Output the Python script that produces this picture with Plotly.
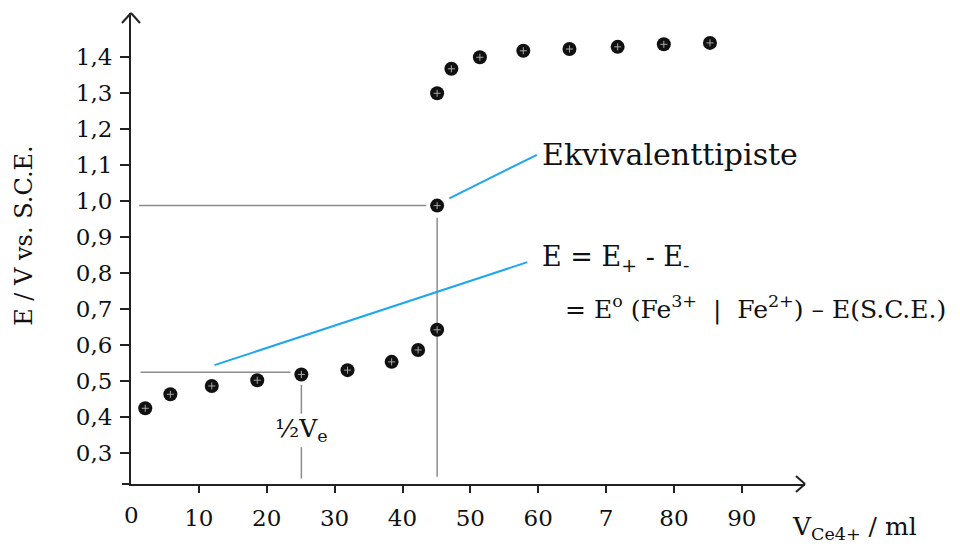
import plotly.graph_objects as go

# ---- data ----
volume_ml = [2.1, 5.8, 11.9, 18.6, 25.1, 31.9, 38.4, 42.3, 45.1, 45.1, 45.1,
             47.2, 51.4, 57.8, 64.6, 71.7, 78.5, 85.3]
potential_V = [0.425, 0.464, 0.487, 0.503, 0.519, 0.531, 0.554, 0.587, 0.643,
               0.988, 1.30, 1.368, 1.40, 1.418, 1.423, 1.429, 1.436, 1.44]

x_tick_vals = [10, 20, 30, 40, 50, 60, 70, 80, 90]
x_tick_text = ["10", "20", "30", "40", "50", "60", "7", "80", "90"]
y_tick_vals = [0.3, 0.4, 0.5, 0.6, 0.7, 0.8, 0.9, 1.0, 1.1, 1.2, 1.3, 1.4]
y_tick_text = ["0,3", "0,4", "0,5", "0,6", "0,7", "0,8", "0,9", "1,0", "1,1", "1,2", "1,3", "1,4"]

equiv_idx = 9      # equivalence point
half_idx = 4       # half-equivalence point
half_E = 0.525

X_RANGE = [0, 99.3]
Y_RANGE = [0.2147, 1.523]

W, H = 960, 549
M = dict(l=131, r=155, t=13, b=65)
PW = W - M["l"] - M["r"]
PH = H - M["t"] - M["b"]

FONT = "DejaVu Serif"
TXT = "#111111"
GRAY = "#8c8c8c"
BLUE = "#1ea6ee"

fig = go.Figure()

# reference (guide) lines
xe, ye = volume_ml[equiv_idx], potential_V[equiv_idx]
xh = volume_ml[half_idx]
guides = [
    ([1.2, xe - 1.6], [ye, ye]),                  # horizontal at equivalence
    ([xe, xe], [ye - 0.034, 0.235]),              # vertical at equivalence
    ([1.4, xh - 1.6], [half_E, half_E]),          # horizontal at half Ve
    ([xh, xh], [0.490, 0.410]),                   # vertical at half Ve (upper)
    ([xh, xh], [0.317, 0.230]),                   # vertical at half Ve (lower)
]
for gx, gy in guides:
    fig.add_trace(go.Scatter(x=gx, y=gy, mode="lines",
                             line=dict(color=GRAY, width=1.5),
                             hoverinfo="skip", showlegend=False))

# blue leader lines
leaders = [
    ([46.9, 59.8], [1.008, 1.129]),
    ([12.3, 58.4], [0.545, 0.831]),
]
for lx, ly in leaders:
    fig.add_trace(go.Scatter(x=lx, y=ly, mode="lines",
                             line=dict(color=BLUE, width=2),
                             hoverinfo="skip", showlegend=False))

# data points
fig.add_trace(go.Scatter(x=volume_ml, y=potential_V, mode="markers",
                         marker=dict(symbol="circle", size=14, color="#111111",
                                     line=dict(width=0)),
                         showlegend=False, cliponaxis=False))
fig.add_trace(go.Scatter(x=volume_ml, y=potential_V, mode="markers",
                         marker=dict(symbol="cross-thin", size=5,
                                     line=dict(color="#a8a8a8", width=1)),
                         showlegend=False, hoverinfo="skip", cliponaxis=False))

annotations = [
    dict(x=60.3, y=1.129, text="Ekvivalenttipiste", xanchor="left", yanchor="middle",
         font=dict(size=30)),
    dict(x=60.3, y=0.840, text="E = E<sub>+</sub> - E<sub>-</sub>", xanchor="left",
         yanchor="middle", font=dict(size=27)),
    dict(x=63.6, y=0.704,
         text="= E<sup>o</sup> (Fe<sup>3+</sup>  |  Fe<sup>2+</sup>) – E(S.C.E.)",
         xanchor="left", yanchor="middle", font=dict(size=25)),
    dict(x=xh, y=0.365, text="½V<sub>e</sub>", xanchor="center", yanchor="middle",
         font=dict(size=25)),
    dict(x=0, y=Y_RANGE[0], text="0", xanchor="center", yanchor="top", yshift=-16,
         font=dict(size=23)),
    dict(xref="paper", yref="paper", x=(790 - M["l"]) / PW, y=-0.094,
         text="V<sub>Ce4+</sub> / ml", xanchor="left", yanchor="middle",
         font=dict(size=25)),
    dict(xref="paper", yref="paper", x=(24 - M["l"]) / PW, y=0.527, text="E / V vs. S.C.E.",
         textangle=-90, xanchor="center", yanchor="middle", font=dict(size=24)),
]
for a in annotations:
    a.setdefault("xref", "x")
    a.setdefault("yref", "y")
    a["showarrow"] = False
    a["font"].update(family=FONT, color=TXT)
fig.update_layout(annotations=annotations)

# axis arrow heads and corner stub, sized in pixels, expressed in paper units
def pline(ax, ay, dx0, dy0, dx1, dy1):
    return dict(type="line", xref="paper", yref="paper",
                x0=ax + dx0 / PW, y0=ay + dy0 / PH, x1=ax + dx1 / PW, y1=ay + dy1 / PH,
                line=dict(color="#222222", width=2))

shapes = [
    pline(1, 0, -9, 8, 0, 0),
    pline(1, 0, -9, -8, 0, 0),
    pline(0, 1, -9, -10, 0, 0),
    pline(0, 1, 9, -10, 0, 0),
    pline(0, 0, -9, 0, 0, 0),
]
fig.update_layout(shapes=shapes)

fig.update_xaxes(range=X_RANGE, showgrid=False, zeroline=False,
                 showline=True, linecolor="#222222", linewidth=2,
                 tickmode="array", tickvals=x_tick_vals, ticktext=x_tick_text,
                 ticks="outside", ticklen=7, tickwidth=2, tickcolor="#222222",
                 ticklabelstandoff=5,
                 tickfont=dict(family=FONT, size=23, color=TXT))
fig.update_yaxes(range=Y_RANGE, showgrid=False, zeroline=False,
                 showline=True, linecolor="#222222", linewidth=2,
                 tickmode="array", tickvals=y_tick_vals, ticktext=y_tick_text,
                 ticks="outside", ticklen=9, tickwidth=2, tickcolor="#222222",
                 ticklabelstandoff=3,
                 tickfont=dict(family=FONT, size=23, color=TXT))

fig.update_layout(width=W, height=H, margin=M,
                  paper_bgcolor="white", plot_bgcolor="white",
                  showlegend=False)

fig.write_html("out.html", config={"displayModeBar": False},
               post_script="document.body.style.margin='0';document.body.style.overflow='hidden';")
